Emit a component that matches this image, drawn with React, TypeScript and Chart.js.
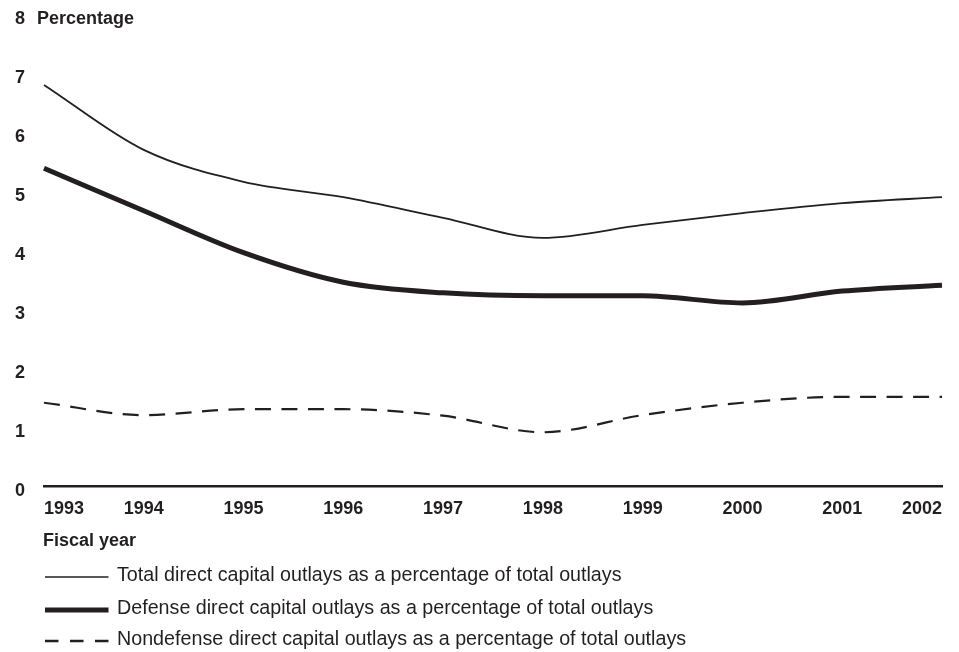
import React, { useEffect, useRef } from "react";
import { Chart, registerables } from "chart.js";

Chart.register(...registerables);

const years = ["1993", "1994", "1995", "1996", "1997", "1998", "1999", "2000", "2001", "2002"];
const totalPct = [6.79, 5.69, 5.15, 4.89, 4.54, 4.2, 4.42, 4.62, 4.79, 4.89];
const defensePct = [5.38, 4.66, 3.95, 3.45, 3.27, 3.22, 3.22, 3.1, 3.3, 3.4];
const nondefensePct = [1.41, 1.2, 1.3, 1.3, 1.19, 0.91, 1.2, 1.41, 1.51, 1.51];
const yTicks = [0, 1, 2, 3, 4, 5, 6, 7, 8];
const legendLabels = [
  "Total direct capital outlays as a percentage of total outlays",
  "Defense direct capital outlays as a percentage of total outlays",
  "Nondefense direct capital outlays as a percentage of total outlays",
];
const yTitle = "Percentage";
const xTitle = "Fiscal year";

const INK = "#231f20";
const FONT = "'Liberation Sans', Arial, Helvetica, sans-serif";

export default function App() {
  const ref = useRef<HTMLCanvasElement | null>(null);

  useEffect(() => {
    document.body.style.margin = "0";
    const canvas = ref.current;
    if (!canvas) return;

    const annotate = {
      id: "annotate",
      afterDraw(chart: any) {
        const ctx = chart.ctx;
        ctx.save();
        ctx.fillStyle = INK;
        ctx.textBaseline = "middle";
        ctx.textAlign = "left";
        ctx.font = `bold 18px ${FONT}`;
        ctx.fillText(yTitle, 37, 19);
        ctx.fillText(xTitle, 43, 541);

        const rows = [
          { y: 577, w: 1.6, dash: [] as number[] },
          { y: 610, w: 5, dash: [] as number[] },
          { y: 641, w: 2.6, dash: [13.5, 11.5] },
        ];
        rows.forEach((r, i) => {
          ctx.beginPath();
          ctx.strokeStyle = INK;
          ctx.lineWidth = r.w;
          ctx.setLineDash(r.dash);
          ctx.moveTo(45, r.y);
          ctx.lineTo(108.5, r.y);
          ctx.stroke();
          ctx.setLineDash([]);
          ctx.font = `19.7px ${FONT}`;
          ctx.fillText(legendLabels[i], 117, r.y - 1);
        });
        ctx.restore();
      },
    };

    const chart = new Chart(canvas, {
      type: "line",
      data: {
        labels: years,
        datasets: [
          {
            label: legendLabels[0],
            data: totalPct,
            borderColor: INK,
            borderWidth: 1.8,
            pointRadius: 0,
            cubicInterpolationMode: "monotone",
            fill: false,
          },
          {
            label: legendLabels[1],
            data: defensePct,
            borderColor: INK,
            borderWidth: 5,
            pointRadius: 0,
            cubicInterpolationMode: "monotone",
            fill: false,
          },
          {
            label: legendLabels[2],
            data: nondefensePct,
            borderColor: INK,
            borderWidth: 2.2,
            borderDash: [16, 10.5],
            pointRadius: 0,
            cubicInterpolationMode: "monotone",
            fill: false,
          },
        ],
      },
      options: {
        animation: false,
        responsive: false,
        layout: { padding: { top: 13.5, right: 17, bottom: 0, left: 0 } },
        plugins: {
          legend: { display: false },
          tooltip: { enabled: false },
          title: { display: false },
        },
        scales: {
          x: {
            type: "category",
            offset: false,
            grid: { display: false, drawTicks: false },
            border: { display: true, color: INK, width: 2.5 },
            ticks: {
              color: INK,
              font: { family: FONT, size: 18, weight: "bold" },
              align: "inner",
              padding: 12,
              maxRotation: 0,
              autoSkip: false,
            },
            afterFit(scale: any) {
              scale.height = 166;
              scale.paddingLeft = 0;
              scale.paddingRight = 0;
            },
          },
          y: {
            min: 0,
            max: 8,
            afterBuildTicks(scale: any) {
              scale.ticks = yTicks.map((v) => ({ value: v }));
            },
            grid: { display: false, drawTicks: false },
            border: { display: false },
            ticks: {
              color: INK,
              font: { family: FONT, size: 18, weight: "bold", lineHeight: 1 },
              padding: 19,
              labelOffset: 5.5,
            },
            afterFit(scale: any) {
              scale.width = 44;
              scale.paddingTop = 0;
              scale.paddingBottom = 0;
            },
          },
        },
      },
      plugins: [annotate],
    });

    return () => {
      chart.destroy();
    };
  }, []);

  return (
    <div style={{ width: 959, height: 652, position: "relative" }}>
      <canvas ref={ref} width={959} height={652} style={{ display: "block" }} />
    </div>
  );
}
